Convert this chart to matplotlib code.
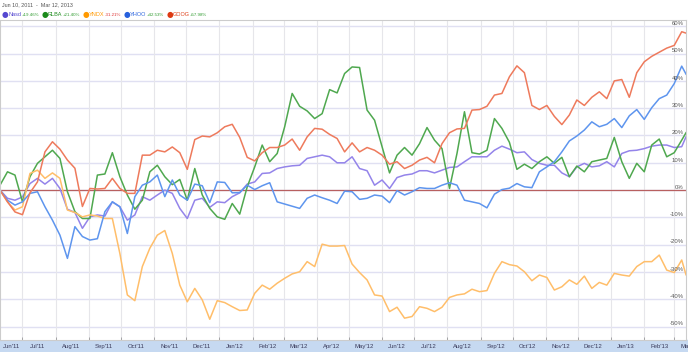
import datetime as dt
import matplotlib
matplotlib.use('Agg')
import matplotlib.pyplot as plt
import matplotlib.dates as mdates
from matplotlib.patches import Rectangle
from matplotlib.transforms import blended_transform_factory

plt.rcParams['font.family'] = ['Liberation Sans', 'DejaVu Sans']

#%% Data (weekly % change since Jun 10, 2011)

start = dt.date(2011, 6, 10)
end = dt.date(2013, 3, 12)

nasd = [0, -3, -3.7, -2.5, 2.4, 4.3, 2.2, 4.3, 0.6, -7, -8.2, -14, -9.8, -9.1, -9.5, -4.3, -6.1, -11, -9.1, -2.4, -3.7, -1.8, 0, -1.2,
        -6.7, -10.4, -3.7, -3, -6.3, -4.3, -4.6, -2.4, -1, 2.2, 3, 6.1, 6.3, 7.9, 8.5, 8.9, 9.1, 11.6, 12.2, 12.8, 12.2, 10, 10,
        12.2, 7.9, 7.1, 1.8, 3.7, 0.6, 4.6, 5.5, 5.9, 7.1, 7.1, 6.3, 7.3, 8.3, 8.5, 10.4, 12.2, 12.2, 12.2, 14.6, 16.1, 15,
        13.7, 14, 11.2, 9.8, 9.1, 9.1, 6.3, 4.9, 8.5, 9.8, 8.5, 8.9, 10.4, 8.5, 13.4, 14.4, 14.6, 15.2, 16.1, 16.5, 16.5, 15.6, 15.9, 19.5]

rlba = [1.8, 6.7, 5.5, -4.3, 4.9, 9.8, 12.2, 14.6, 11.6, -0.6, -7.9, -10.4, -10.4, 5.5, 5.9, 13.7, 4.9, -1.8, -7, -3.7, 6.7, 9.1, 4.9, 2,
        3.9, -3.7, 7.9, -1.8, -6.7, -9.8, -10.7, -4.9, -8.8, 1.2, 8.5, 16.5, 10.4, 13.4, 23.2, 35.4, 30.7, 29, 26.2, 28, 36.8, 35.6, 42.7,
        45.1, 44.9, 29.3, 25.6, 15.9, 6.3, 12.8, 15.6, 12.8, 17, 22.9, 18.3, 15.2, 0.6, 13.4, 28.7, 13.7, 13.2, 14.6, 26.2, 22.6, 17.5,
        7.6, 9.5, 7.9, 10.4, 12.2, 9.8, 12, 4.9, 8.8, 6.7, 10.4, 11, 11.6, 19.3, 10.4, 4.3, 9.8, 6.7, 16.5, 18.7, 12.2, 13.7, 18.3, 21]

yndx = [0, -4.3, -7.3, -6.1, 6.1, 7.3, 4.3, 6.3, 4.3, -7.3, -8.2, -9.8, -9.1, -9.5, -10.4, -10.4, -23.2, -38.4, -40.5, -28, -21.3, -16.5, -14.8, -23.2,
        -34.8, -40.9, -36, -40.2, -47.3, -40.5, -41.2, -42.7, -44.1, -43.9, -37.8, -34.8, -36.3, -34.1, -32.3, -30.7, -29.9, -26.2, -28, -19.8, -20.5, -20.5, -20.3,
        -27.1, -30.2, -32.9, -38.4, -38.8, -44.5, -42.9, -46.9, -46.3, -42.7, -43.3, -44.5, -42.9, -39.3, -38.4, -38, -36.3, -37.2, -36.8, -30.5, -26.2, -27.3,
        -27.8, -29.9, -33.2, -31.1, -32, -36.6, -35.4, -32.9, -34.5, -31.5, -36, -33.8, -34.8, -30.5, -31.1, -31.5, -28, -26.2, -26.2, -23.8, -29.3, -30.2, -25.6, -31]

yhoo = [0, -3.7, -5.5, -4.3, -1.2, -0.6, -6.1, -11, -16.5, -25, -13.4, -17, -18.3, -17.8, -7.9, -4.3, -6.1, -15.9, -2.4, 1.8, 3, 5.5, -2.4, 3.7,
        -1.8, -3.7, 2.2, 1.6, -4.6, 3, 2.8, -1, -0.9, 1.8, 0.2, 1.6, 2.7, -4.3, -5.1, -5.9, -6.7, -3, -1.8, -2.8, -3.7, -4.9, -0.4,
        -0.6, -3.4, -3, -1.8, -2.2, -4.6, -0.2, -1.8, -0.6, 0.9, 0.6, 0.6, 1.8, 2.7, 1.8, -3.7, -4.3, -4.9, -6.5, -1.5, 0.2, 0.7,
        2.4, 1.2, 0.9, 6.7, 8.5, 10.4, 14, 18, 19.8, 22, 25, 23.2, 24.1, 26.2, 22.9, 27.2, 29.5, 25.9, 30.2, 33.5, 34.8, 39, 45.4, 42.5]

goog = [0, -4.3, -8, -9, -1, 3, 14, 17.7, 15, 11, 8, -6, 0.6, 0.4, 0.6, 4.3, 0.6, -1.2, -1.2, 12.8, 12.8, 14.6, 14, 15.8,
        13.7, 7.6, 18.5, 19.8, 19.5, 21, 23.2, 24.1, 19.3, 12, 10.7, 13.7, 15.6, 15.6, 16.5, 18.7, 14.6, 19.5, 22.6, 22.3, 20.4, 18.9, 14,
        17.3, 14, 15.6, 14.6, 12.8, 9.5, 10.4, 7.9, 9.1, 11, 12, 10, 17, 21, 22.4, 22.6, 29.3, 29.5, 30.7, 34.8, 35.4, 41.5,
        45.5, 43, 31, 29.5, 31, 27, 24, 27.5, 33, 31, 34, 36, 33.5, 40, 40.5, 34, 43, 47, 49, 50.5, 52, 53, 58, 57.5]

names = ['Nasd', 'RLBA', 'YNDX', 'YHOO', 'GOOG']
changes = ['+19.46%', '+21.40%', '-31.21%', '+42.53%', '+57.98%']
y_ticks = [60, 50, 40, 30, 20, 10, 0, -10, -20, -30, -40, -50]

dates = [start + dt.timedelta(days=7 * i) for i in range(len(goog) - 1)] + [end]

#%% Styles

line_colors = ['#9484ea', '#4fa84f', '#ffbe6a', '#5e95ee', '#ee7a5c']
dark_colors = ['#5548d0', '#1b8a1b', '#ff9900', '#2660dd', '#dd3a12']

W, H = 688, 352
fig = plt.figure(figsize=(W / 100, H / 100), dpi=100)
ax = fig.add_axes([0, 12 / H, 686 / W, 320 / H])
ax.set_xlim(mdates.date2num(start), mdates.date2num(end))
ax.set_ylim(-54.9, 62.3)

# grid
for v in y_ticks:
    ax.axhline(v, color='#e0e0f2', lw=1.0, zorder=0)
months = [dt.date(2011 + (5 + k) // 12, (5 + k) % 12 + 1, 1) for k in range(22)]
for m in months[1:]:
    ax.axvline(mdates.date2num(m), color='#e6e6ea', lw=0.8, zorder=0)
ax.axhline(0, color='#b86060', lw=0.9, zorder=1)

for vals, c in zip([nasd, rlba, yndx, yhoo, goog], line_colors):
    ax.plot(mdates.date2num(dates), vals, color=c, lw=1.1, zorder=2)

for s in ax.spines.values():
    s.set_color('#cccccc')
    s.set_linewidth(0.8)
ax.set_yticks([])
ax.set_xticks([mdates.date2num(m) for m in months[1:]])
ax.set_xticklabels([])
ax.tick_params(axis='x', direction='in', length=2.5, color='#999999', width=0.6)

# right side % labels
for v in y_ticks:
    ax.text(0.997, v + 1.0, '%d%%' % v, transform=blended_transform_factory(ax.transAxes, ax.transData),
            ha='right', va='center', fontsize=4.3, color='#555555', zorder=3)

# bottom band with month labels
band = Rectangle((0, 0), 1, 12 / H, transform=fig.transFigure, color='#c6d9f1', zorder=-1)
fig.patches.append(band)
trans = blended_transform_factory(ax.transData, fig.transFigure)
for i, m in enumerate(months):
    if i == 0:
        xm = (mdates.date2num(start) + mdates.date2num(months[1])) / 2
    else:
        xm = mdates.date2num(dt.date(m.year, m.month, 15))
    ax.text(xm, 5.5 / H, m.strftime("%b'%y"), transform=trans,
            ha='center', va='center', fontsize=4.3, color='#3a3a5a', clip_on=False, zorder=5)

# header and legend
fig.text(2 / W, 1 - 5 / H, 'Jun 10, 2011  -  Mar 12, 2013', fontsize=3.9, color='#555555', va='center', ha='left')
renderer = fig.canvas.get_renderer()
x = 2
ly = 1 - 14.5 / H
for name, ch, c in zip(names, changes, dark_colors):
    chc = '#2e9a2e' if ch.startswith('+') else '#dd3333'
    for txt, col, fs, gap, fam in [('\u25cf', c, 5.5, -0.5, 'DejaVu Sans'), (name, c, 4.0, 0.5, 'Liberation Sans'),
                                   (ch, chc, 3.2, 2.5, 'Liberation Sans')]:
        t = fig.text(x / W, ly, txt, fontsize=fs, color=col, va='center', ha='left', family=fam)
        x += t.get_window_extent(renderer).width + gap

plt.savefig('out.png', dpi=100)
